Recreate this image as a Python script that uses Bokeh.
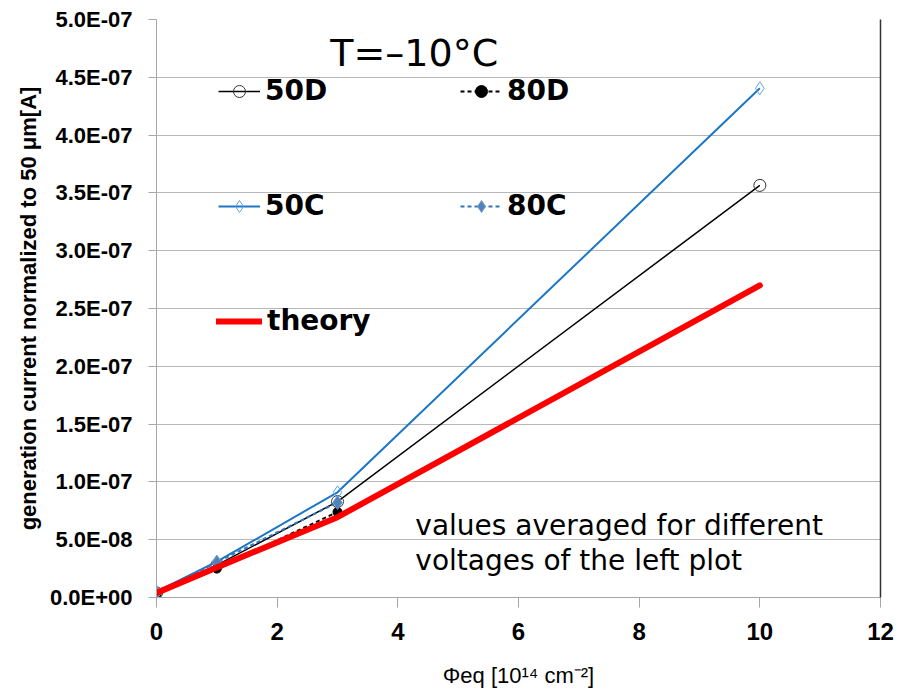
from bokeh.plotting import figure
from bokeh.models import (Legend, LegendItem, Label, LinearAxis, FixedTicker,
                          Range1d, CustomJSTickFormatter)
from bokeh.embed import file_html
from bokeh.resources import INLINE

# ---- data ----
fluence = [0, 1, 3, 10]
fluence_80 = [0, 1, 3]
i_50D = [0.4e-8, 2.8e-8, 8.3e-8, 3.565e-7]
i_80D = [0.3e-8, 2.5e-8, 7.4e-8]
i_50C = [0.5e-8, 3.1e-8, 9.1e-8, 4.405e-7]
i_80C = [0.4e-8, 3.05e-8, 8.22e-8]
i_theory = [0.4e-8, 2.6e-8, 6.95e-8, 2.70e-7]

x_ticks = [0, 2, 4, 6, 8, 10, 12]
y_ticks = [0.0, 5e-8, 1e-7, 1.5e-7, 2e-7, 2.5e-7, 3e-7, 3.5e-7, 4e-7, 4.5e-7, 5e-7]
y_tick_labels = ["0.0E+00", "5.0E-08", "1.0E-07", "1.5E-07", "2.0E-07", "2.5E-07",
                 "3.0E-07", "3.5E-07", "4.0E-07", "4.5E-07", "5.0E-07"]

title_text = "T=\u201310\u00b0C"
note_lines = ["values averaged for different", "voltages of the left plot"]
y_label = "generation current normalized to 50 \u03bcm[A]"
x_label = "\u03a6eq [10\u00b9\u2074 cm\u207b\u00b2]"

p = figure(width=906, height=694, output_backend="svg", toolbar_location=None,
           x_range=Range1d(0, 12), y_range=Range1d(0, 5e-7),
           min_border_left=156, min_border_right=26, min_border_top=19, min_border_bottom=97)
p.background_fill_color = "white"
p.border_fill_color = "white"
p.outline_line_color = None
p.xgrid.visible = False
p.ygrid.grid_line_color = "#b8b8b8"
p.ygrid.grid_line_width = 1

# axes
p.xaxis.ticker = FixedTicker(ticks=x_ticks)
p.yaxis.ticker = FixedTicker(ticks=y_ticks)
p.yaxis.formatter = CustomJSTickFormatter(args=dict(tvals=y_ticks, tlabels=y_tick_labels), code="""
let best = 0; let bd = Infinity;
for (let i = 0; i < tvals.length; i++) { const d = Math.abs(tvals[i] - tick); if (d < bd) { bd = d; best = i; } }
return tlabels[best];
""")
for ax in (p.xaxis[0], p.yaxis[0]):
    ax.axis_line_color = "#a6a6a6"
    ax.major_tick_line_color = "#a6a6a6"
    ax.minor_tick_line_color = None
    ax.major_tick_in = 0
    ax.major_label_text_font = "Liberation Sans"
    ax.major_label_text_font_style = "bold"
    ax.major_label_text_color = "black"

p.xaxis.major_tick_out = 10
p.xaxis.major_label_standoff = 15
p.xaxis.major_label_text_font_size = "24px"
p.xaxis.axis_label = x_label
p.xaxis.axis_label_text_font = "Liberation Sans"
p.xaxis.axis_label_text_font_style = "normal"
p.xaxis.axis_label_text_font_size = "22px"
p.xaxis.axis_label_text_color = "black"
p.xaxis.axis_label_standoff = 20

p.yaxis.major_tick_out = 8
p.yaxis.major_label_standoff = 16
p.yaxis.major_label_text_font_size = "22px"
p.yaxis.axis_label = y_label
p.yaxis.axis_label_text_font = "Liberation Sans"
p.yaxis.axis_label_text_font_style = "bold"
p.yaxis.axis_label_text_font_size = "22px"
p.yaxis.axis_label_text_color = "black"
p.yaxis.axis_label_standoff = 6

ra = LinearAxis(ticker=FixedTicker(ticks=[]), major_label_text_font_size="0px",
                axis_line_color="#333333", axis_line_width=1.5,
                major_tick_line_color=None, minor_tick_line_color=None)
p.add_layout(ra, "right")

# series
l50D = p.line(fluence, i_50D, line_color="black", line_width=1.5)
s50D = p.scatter(fluence, i_50D, marker="circle", size=12, fill_color=None,
                 line_color="#333333", line_width=1)
l80D = p.line(fluence_80, i_80D, line_color="black", line_width=2, line_dash="4 3")
s80D = p.scatter(fluence_80, i_80D, marker="circle", size=9, fill_color="black", line_color="black")
l50C = p.line(fluence, i_50C, line_color="#1b76c6", line_width=2)
s50C = p.scatter(fluence, i_50C, marker="diamond", size=13, fill_color=None,
                 line_color="#5ea4e4", line_width=1)
l80C = p.line(fluence_80, i_80C, line_color="#2e78c0", line_width=2, line_dash="4 3")
s80C = p.scatter(fluence_80, i_80C, marker="diamond", size=14, fill_color="#4f81bd",
                 line_color="#7a9cc8", line_width=1)
lth = p.line(fluence, i_theory, line_color="#ff0000", line_width=6, line_cap="round", line_join="round")

legend_font = dict(label_text_font="DejaVu Sans", label_text_font_style="bold",
                   label_text_font_size="28px", label_text_color="black")
def add_legend(label, renderers, loc, gw=42):
    leg = Legend(items=[LegendItem(label=label, renderers=renderers)], location=loc,
                 border_line_color=None, background_fill_alpha=0, padding=0, margin=0,
                 glyph_width=gw, glyph_height=30, label_height=30, label_standoff=5,
                 **legend_font)
    p.add_layout(leg)

add_legend("50D", [l50D, s50D], (62, 490))
add_legend("80D", [l80D, s80D], (304, 490))
add_legend("50C", [l50C, s50C], (62, 375))
add_legend("80C", [l80C, s80C], (304, 375))
add_legend("theory", [lth], (60, 260), gw=46)

# title and note
p.add_layout(Label(x=2.88, y=4.706e-7, text=title_text, text_font="DejaVu Sans",
                   text_font_size="38px", text_color="black", text_baseline="alphabetic"))
p.add_layout(Label(x=4.29, y=0.623e-7, text=note_lines[0], text_font="DejaVu Sans",
                   text_font_size="28px", text_color="black", text_baseline="alphabetic"))
p.add_layout(Label(x=4.29, y=0.32e-7, text=note_lines[1], text_font="DejaVu Sans",
                   text_font_size="28px", text_color="black", text_baseline="alphabetic"))

open("out.html", "w").write(file_html(p, INLINE))
